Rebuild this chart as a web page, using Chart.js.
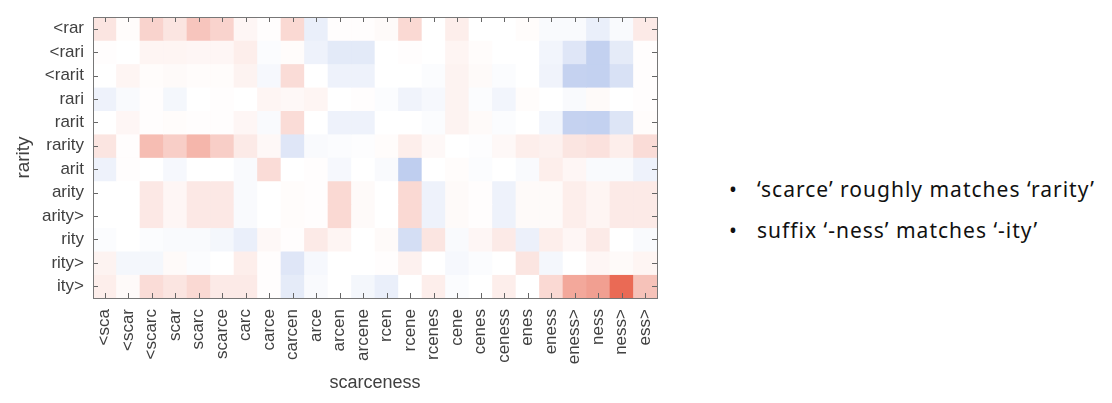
<!DOCTYPE html>
<html>
<head>
<meta charset="utf-8">
<script src="https://cdn.jsdelivr.net/npm/chart.js@4/dist/chart.umd.min.js"></script>
<style>
  html, body { margin: 0; padding: 0; background: #fff; }
  #wrap { position: absolute; left: 0; top: 0; width: 672px; height: 403px; }
  .notes { position: absolute; left: 729px; top: 169px; font-family: "Noto Sans", sans-serif; font-size: 21px; letter-spacing: 1px; color: #111; }
  .notes div { position: relative; padding-left: 28px; height: 41px; line-height: 41px; }
  .notes div::before { content: "\2022"; position: absolute; left: 0; letter-spacing: 0; }
</style>
</head>
<body>
<div id="wrap"><canvas id="heat"></canvas></div>
<div class="notes">
  <div>‘scarce’ roughly matches ‘rarity’</div>
  <div>suffix ‘-ness’ matches ‘-ity’</div>
</div>
<script>
const colLabels = ['<sca', '<scar', '<scarc', 'scar', 'scarc', 'scarce', 'carc', 'carce', 'carcen', 'arce', 'arcen', 'arcene',
                   'rcen', 'rcene', 'rcenes', 'cene', 'cenes', 'ceness', 'enes', 'eness', 'eness>', 'ness', 'ness>', 'ess>'];
const rowLabels = ['<rar', '<rari', '<rarit', 'rari', 'rarit', 'rarity', 'arit', 'arity', 'arity>', 'rity', 'rity>', 'ity>'];

// one row per rarity n-gram, one value per scarceness n-gram (red > 0, blue < 0)
const scores = [
  [0.15, 0.02, 0.25, 0.15, 0.33, 0.25, 0.05, 0.01, 0.22, -0.10, 0.01, 0.01, 0.03, 0.22, 0, 0.10, 0, 0, 0.02, -0.03, -0.03, -0.10, -0.03, 0.12],
  [0.01, 0, 0.06, 0.06, 0.05, 0.05, 0.10, -0.02, 0.02, -0.08, -0.13, -0.13, 0, 0.01, 0, 0.06, 0.02, 0, 0, -0.06, -0.15, -0.28, -0.12, 0.01],
  [0, 0.06, 0.02, 0.03, 0.02, 0.02, 0.07, -0.04, 0.20, 0, -0.08, -0.08, 0, 0, -0.02, 0.07, 0.03, -0.02, 0, -0.07, -0.27, -0.28, -0.18, 0.01],
  [-0.08, -0.03, 0.01, -0.05, 0, 0.01, 0, 0.06, 0.04, 0.06, 0, 0.01, -0.02, -0.07, -0.04, 0.07, -0.02, -0.06, 0.02, 0, -0.03, 0.03, 0, 0.01],
  [0, 0.05, 0.01, 0.02, 0.01, 0.01, 0.05, -0.03, 0.20, 0, -0.08, -0.08, 0, 0, -0.02, 0.07, 0.03, -0.02, 0, -0.06, -0.27, -0.28, -0.16, 0.02],
  [0.15, 0.01, 0.38, 0.28, 0.42, 0.28, 0.12, 0.04, -0.15, -0.03, -0.02, -0.01, 0.02, 0.10, 0.04, 0, -0.01, 0.04, 0.10, 0.08, 0.15, 0.17, 0.10, 0.20],
  [-0.08, 0.01, 0, -0.04, 0, 0, -0.03, 0.20, 0, 0.01, -0.04, 0, -0.03, -0.30, 0, 0.02, -0.02, 0, -0.03, 0.10, 0.05, -0.03, -0.03, -0.08],
  [0, 0, 0.13, 0.05, 0.13, 0.13, -0.03, 0, 0.02, 0.01, 0.22, 0.03, 0, 0.22, -0.08, 0.03, 0.01, -0.08, 0.03, 0.03, 0.10, 0.06, 0.12, 0.12],
  [0, 0, 0.13, 0.05, 0.13, 0.13, -0.03, 0, 0.02, 0.01, 0.22, 0.03, 0, 0.22, -0.08, 0.03, 0.01, -0.08, 0.03, 0.03, 0.10, 0.06, 0.12, 0.12],
  [-0.02, 0, -0.02, -0.03, -0.03, -0.05, -0.10, 0.04, 0.01, 0.12, 0.06, 0, 0.03, -0.20, 0.15, -0.03, 0.05, 0.12, -0.09, 0.10, 0.05, 0.12, 0, -0.03],
  [0.07, -0.05, -0.05, 0.03, -0.02, 0, 0.10, 0.01, -0.15, -0.04, 0, 0, 0.01, 0.08, 0, -0.04, -0.02, 0, 0.15, -0.05, 0, 0.05, 0.03, 0.06],
  [0.10, 0.03, 0.20, 0.15, 0.22, 0.12, 0.12, 0.01, -0.12, -0.03, 0, -0.05, -0.10, 0, 0.10, -0.02, 0, 0.10, 0, 0.22, 0.50, 0.55, 0.85, 0.35]
];

function cellColor(v) {
  const t = Math.min(1, Math.abs(v));
  const end = v >= 0 ? [230, 80, 55] : [40, 90, 200];
  const c = end.map(e => Math.round(255 + (e - 255) * t));
  return 'rgb(' + c.join(',') + ')';
}

const datasets = rowLabels.map((name, r) => ({
  label: name,
  data: colLabels.map(() => [r, r + 1]),
  backgroundColor: scores[r].map(cellColor),
  borderWidth: 0,
  borderSkipped: false,
  barPercentage: 1,
  categoryPercentage: 1,
  grouped: false
}));

const boxTicks = {
  id: 'boxTicks',
  afterDraw(chart) {
    const { ctx, chartArea: a, scales } = chart;
    ctx.save();
    ctx.strokeStyle = '#666';
    ctx.lineWidth = 1;
    ctx.beginPath();
    scales.x.ticks.forEach((t, i) => {
      const px = Math.round(scales.x.getPixelForTick(i)) + 0.5;
      ctx.moveTo(px, a.bottom); ctx.lineTo(px, a.bottom - 5);
      ctx.moveTo(px, a.top); ctx.lineTo(px, a.top + 5);
    });
    scales.y.ticks.forEach(t => {
      const py = Math.round(scales.y.getPixelForValue(t.value)) + 0.5;
      ctx.moveTo(a.left, py); ctx.lineTo(a.left + 5, py);
      ctx.moveTo(a.right, py); ctx.lineTo(a.right - 5, py);
    });
    ctx.stroke();
    ctx.strokeStyle = '#777';
    ctx.strokeRect(Math.round(a.left) + 0.5, Math.round(a.top) + 0.5, Math.round(a.right - a.left), Math.round(a.bottom - a.top));
    ctx.restore();
  }
};

const tickFont = { family: 'Liberation Sans, Arial, sans-serif', size: 17 };

new Chart(document.getElementById('heat'), {
  type: 'bar',
  data: { labels: colLabels, datasets: datasets },
  plugins: [boxTicks],
  options: {
    responsive: true,
    maintainAspectRatio: false,
    animation: false,
    layout: { padding: { left: 0, right: 15, top: 17, bottom: 0 } },
    plugins: { legend: { display: false }, tooltip: { enabled: false } },
    scales: {
      x: {
        grid: { display: false },
        border: { display: false },
        ticks: { color: '#404040', font: tickFont, minRotation: 90, maxRotation: 90, autoSkip: false, padding: 3 },
        title: { display: true, text: 'scarceness', color: '#404040', font: { family: 'Liberation Sans, Arial, sans-serif', size: 18 }, padding: { top: 2, bottom: 9 } },
        afterFit(scale) { scale.height = 105; }
      },
      y: {
        min: 0,
        max: 12,
        reverse: true,
        grid: { display: false },
        border: { display: false },
        afterBuildTicks(scale) { scale.ticks = rowLabels.map((_, i) => ({ value: i + 0.5 })); },
        ticks: {
          color: '#404040', font: tickFont, padding: 1,
          callback: value => rowLabels[Math.floor(value)]
        },
        title: { display: true, text: 'rarity', color: '#404040', font: { family: 'Liberation Sans, Arial, sans-serif', size: 19 }, padding: { top: 12, bottom: 0 } },
        afterFit(scale) { scale.width = 93; }
      }
    }
  }
});
</script>
</body>
</html>
